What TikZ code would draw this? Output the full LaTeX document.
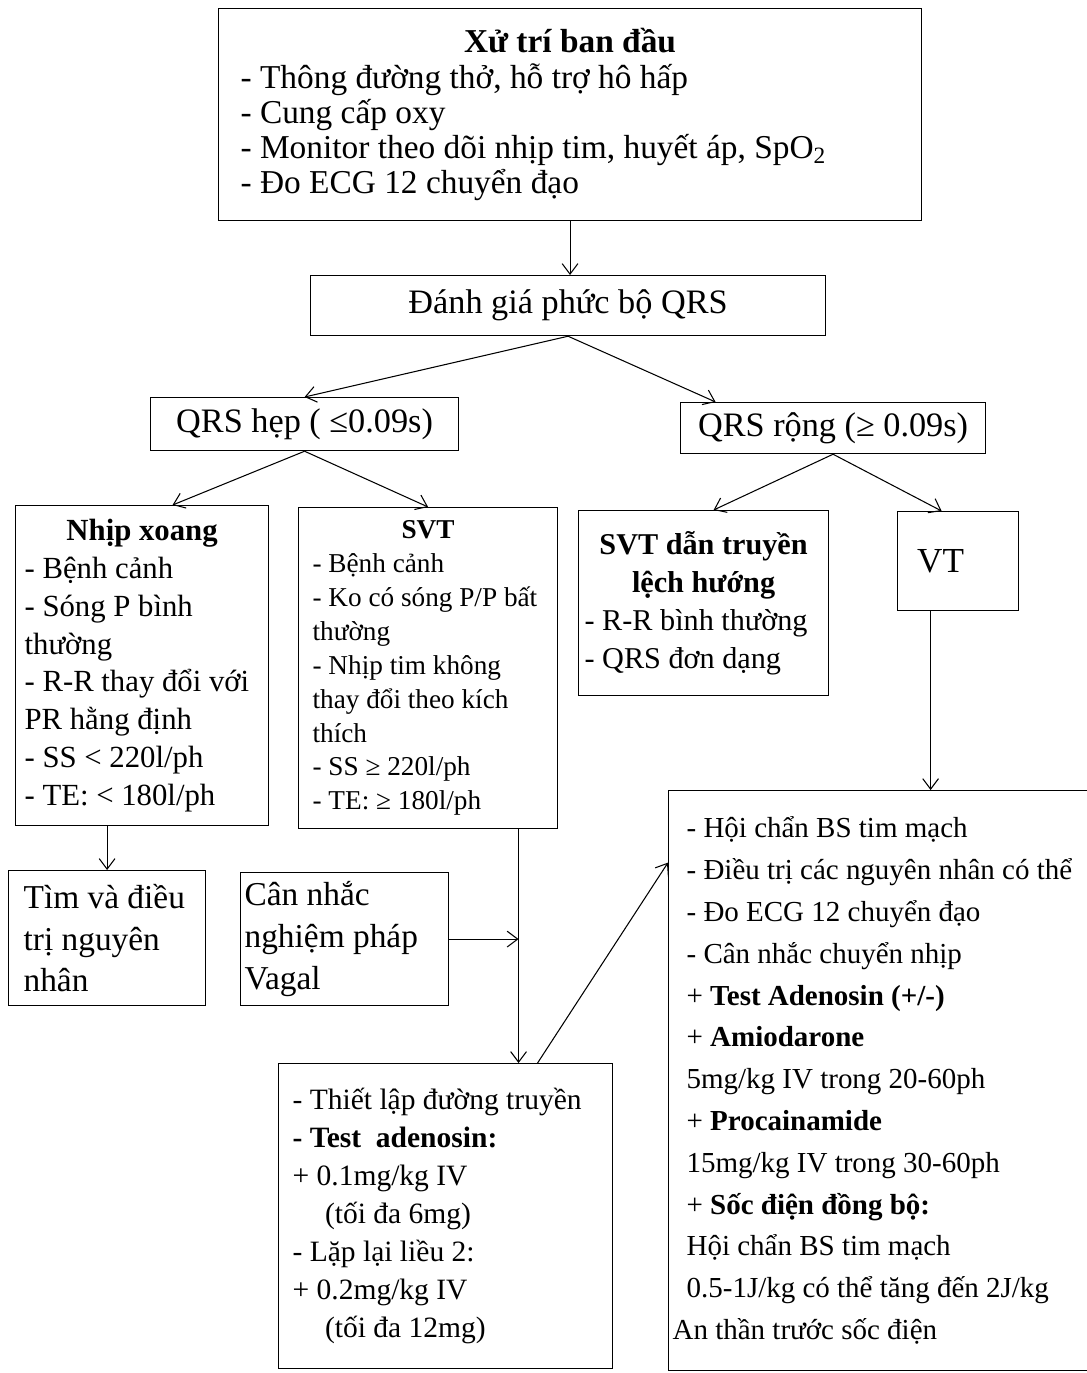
\documentclass[tikz,border=0pt]{standalone}
\usepackage{fontspec}
\setmainfont{Liberation Serif}
\usetikzlibrary{arrows.meta}
\tikzset{
  box/.style={draw, line width=0.7pt, inner ysep=0.1cm, anchor=north west, align=flush left},
  flow/.style={line width=0.6pt, -{Straight Barb[length=6pt,width=9pt]}},
}
\newcommand{\midline}[1]{\leavevmode\hbox to \hsize{\hfil#1\hfil}}
\begin{document}
\begin{tikzpicture}[x=0.02cm, y=-0.02cm]
  \useasboundingbox (0,0) rectangle (1086,1373);
  % first steps
  \node[box, inner xsep=0.44cm, text width=13.18cm, minimum height=4.24cm,
    font=\fontsize{19}{20}\selectfont] (batdau) at (218,8)
    {\midline{\textbf{Xử trí ban đầu}}\\
     - Thông đường thở, hỗ trợ hô hấp\\
     - Cung cấp oxy\\
     - Monitor theo dõi nhịp tim, huyết áp, SpO\textsubscript{2}\\
     - Đo ECG 12 chuyển đạo};
  \node[box, align=center, minimum width=10.3cm, minimum height=1.2cm,
    font=\fontsize{19.5}{22}\selectfont] (danhgia) at (310,275) {Đánh giá phức bộ QRS};
  \node[box, align=center, minimum width=6.16cm, minimum height=1.06cm,
    font=\fontsize{19.5}{22}\selectfont] (hep) at (150,397) {QRS hẹp ( ≤0.09s)};
  \node[box, align=center, minimum width=6.1cm, minimum height=1.02cm,
    font=\fontsize{19.5}{22}\selectfont] (rong) at (680,402) {QRS rộng (≥ 0.09s)};
  % narrow QRS
  \node[box, inner xsep=0.18cm, text width=4.7cm, minimum height=6.4cm,
    font=\fontsize{17.5}{21.6}\selectfont] (xoang) at (15,505)
    {\midline{\textbf{Nhịp xoang}}\\
     - Bệnh cảnh\\
     - Sóng P bình\\
     thường\\
     - R-R thay đổi với\\
     PR hằng định\\
     - SS < 220l/ph\\
     - TE: < 180l/ph};
  \node[box, inner xsep=0.28cm, text width=4.62cm, minimum height=6.42cm,
    font=\fontsize{15.5}{19.3}\selectfont] (svt) at (298,507)
    {\midline{\textbf{SVT}}\\
     - Bệnh cảnh\\
     - Ko có sóng P/P bất\\
     thường\\
     - Nhịp tim không\\
     thay đổi theo kích\\
     thích\\
     - SS ≥ 220l/ph\\
     - TE: ≥ 180l/ph};
  % wide QRS
  \node[box, inner xsep=0.12cm, text width=4.76cm, minimum height=3.7cm,
    font=\fontsize{17.2}{21.6}\selectfont] (lech) at (578,510)
    {\midline{\textbf{SVT dẫn truyền}}\\
     \midline{\textbf{lệch hướng}}\\
     - R-R bình thường\\
     - QRS đơn dạng};
  \node[box, align=center, minimum width=2.42cm, minimum height=1.98cm,
    font=\fontsize{20}{24}\selectfont] (vt) at (897,511) {VT\hspace{0.7cm}};
  \node[box, inner xsep=0.36cm, text width=8.3cm, minimum height=11.6cm,
    font=\fontsize{16.5}{23.8}\selectfont] (phai) at (668,790)
    {- Hội chẩn BS tim mạch\\
     - Điều trị các nguyên nhân có thể\\
     - Đo ECG 12 chuyển đạo\\
     - Cân nhắc chuyển nhịp\\
     + \textbf{Test Adenosin (+/-)}\\
     + \textbf{Amiodarone}\\
     5mg/kg IV trong 20-60ph\\
     + \textbf{Procainamide}\\
     15mg/kg IV trong 30-60ph\\
     + \textbf{Sốc điện đồng bộ:}\\
     Hội chẩn BS tim mạch\\
     0.5-1J/kg có thể tăng đến 2J/kg\\
     \hspace*{-0.28cm}An thần trước sốc điện};
  % lower left
  \node[box, inner xsep=0.3cm, text width=3.34cm, minimum height=2.7cm,
    font=\fontsize{19}{23.8}\selectfont] (tim) at (8,870)
    {Tìm và điều\\ trị nguyên\\ nhân};
  \node[box, inner xsep=0.08cm, text width=4.0cm, minimum height=2.66cm,
    font=\fontsize{19}{23.8}\selectfont] (vagal) at (240,872)
    {Cân nhắc\\ nghiệm pháp\\ Vagal};
  \node[box, inner xsep=0.28cm, text width=6.12cm, minimum height=6.1cm,
    font=\fontsize{16.8}{21.6}\selectfont] (adeno) at (278,1063)
    {- Thiết lập đường truyền\\
     \textbf{- Test\ \ adenosin:}\\
     + 0.1mg/kg IV\\
     \hspace*{1.1em}(tối đa 6mg)\\
     - Lặp lại liều 2:\\
     + 0.2mg/kg IV\\
     \hspace*{1.1em}(tối đa 12mg)};
  \coordinate (svtline) at ([xshift=1.46cm]adeno.north);
  % connectors
  \draw[flow] (batdau.south) -- (batdau.south |- danhgia.north);
  \draw[flow] (danhgia.south) -- (hep.north);
  \draw[flow] (danhgia.south) -- ([xshift=-2.35cm]rong.north);
  \draw[flow] (hep.south) -- ([xshift=0.61cm]xoang.north);
  \draw[flow] (hep.south) -- (svt.north);
  \draw[flow] (rong.south) -- ([xshift=0.2cm]lech.north);
  \draw[flow] (rong.south) -- ([xshift=-0.33cm]vt.north);
  \draw[flow] ([xshift=-0.55cm]vt.south) -- ([xshift=-0.55cm]vt.south |- phai.north);
  \draw[flow] (tim.north |- xoang.south) -- (tim.north);
  \draw[flow] (svtline |- svt.south) -- (svtline);
  \draw[flow] (vagal.east) -- (vagal.east -| svtline);
  \draw[flow] ([xshift=1.84cm]adeno.north) -- ([yshift=4.36cm]phai.west);
\end{tikzpicture}
\end{document}
